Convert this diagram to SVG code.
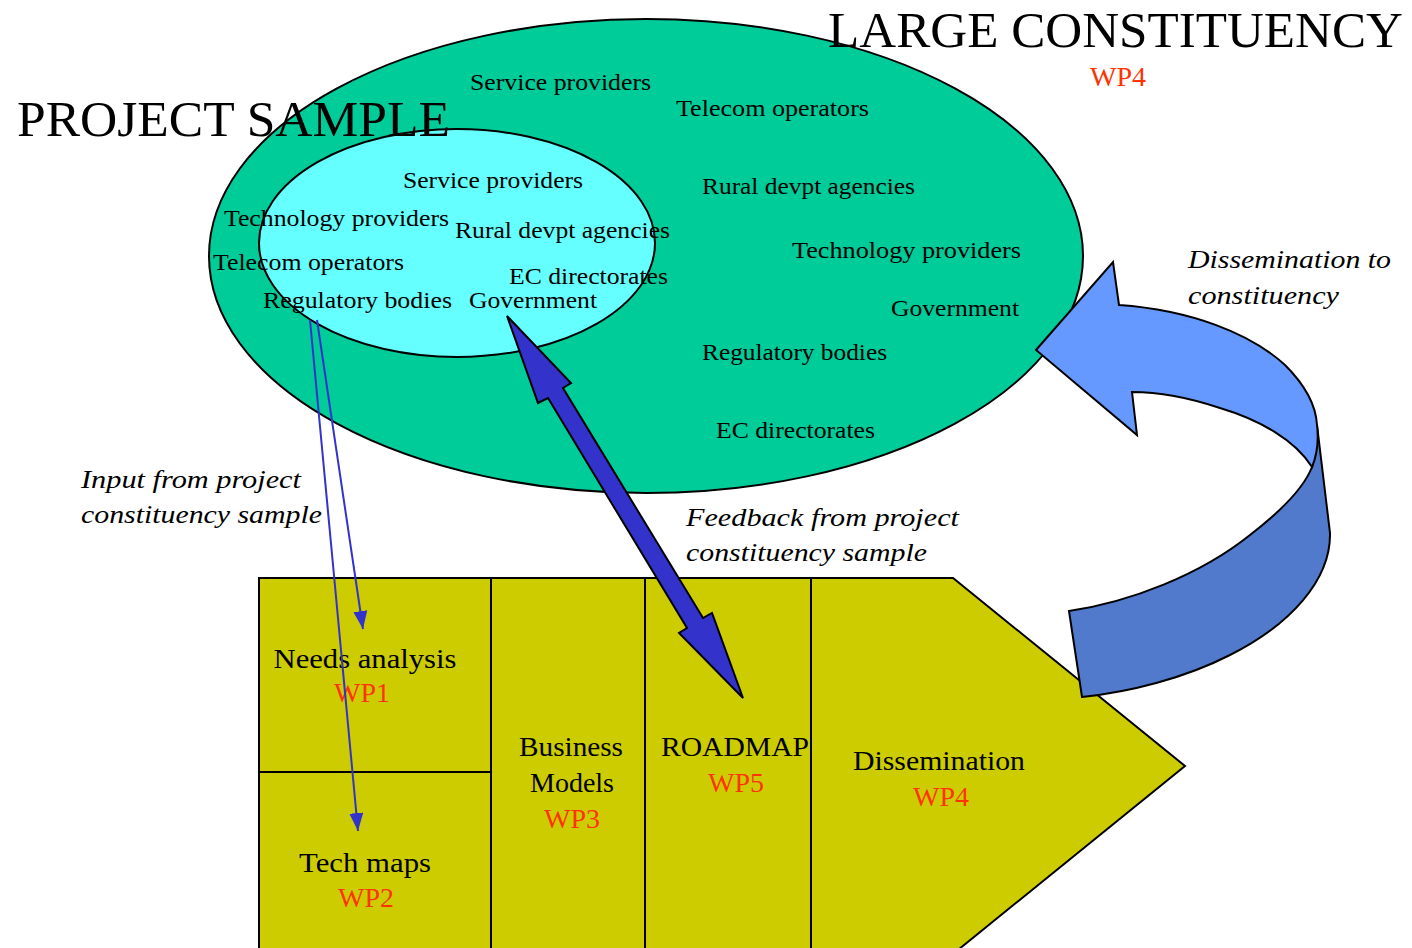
<svg xmlns="http://www.w3.org/2000/svg" width="1412" height="948" viewBox="0 0 1412 948">
  <defs>
    <style>
      text { font-family: "Liberation Serif", "Times New Roman", serif; fill: #000; }
      .title { font-size: 51px; }
      .lbl { font-size: 24px; }
      .note { font-size: 26px; font-style: italic; }
      .box { font-size: 28px; text-anchor: middle; }
      .wp { fill: #FF3300; }
      .edge { stroke: #000; stroke-width: 2; }
      .thin { stroke: #3333CC; stroke-width: 2; fill: none; }
    </style>
    <marker id="tri" viewBox="0 0 18 14" refX="18" refY="7" markerWidth="18" markerHeight="14" markerUnits="userSpaceOnUse" orient="auto">
      <path d="M0,0 L18,7 L0,14 Z" fill="#3333CC"/>
    </marker>
  </defs>

  <rect width="1412" height="948" fill="#fff"/>

  <!-- large constituency -->
  <g id="large-constituency">
    <ellipse cx="646" cy="256" rx="437" ry="237" fill="#00CC99" class="edge"/>
    <text class="lbl" x="470" y="90" textLength="181" lengthAdjust="spacingAndGlyphs">Service providers</text>
    <text class="lbl" x="676" y="116" textLength="193" lengthAdjust="spacingAndGlyphs">Telecom operators</text>
    <text class="lbl" x="702" y="194" textLength="213" lengthAdjust="spacingAndGlyphs">Rural devpt agencies</text>
    <text class="lbl" x="792" y="258" textLength="229" lengthAdjust="spacingAndGlyphs">Technology providers</text>
    <text class="lbl" x="891" y="316" textLength="128" lengthAdjust="spacingAndGlyphs">Government</text>
    <text class="lbl" x="702" y="360" textLength="185" lengthAdjust="spacingAndGlyphs">Regulatory bodies</text>
    <text class="lbl" x="716" y="438" textLength="159" lengthAdjust="spacingAndGlyphs">EC directorates</text>
  </g>

  <!-- project sample -->
  <g id="project-sample">
    <ellipse cx="457" cy="243" rx="198" ry="114" fill="#66FFFF" class="edge"/>
    <text class="lbl" x="403" y="188" textLength="180" lengthAdjust="spacingAndGlyphs">Service providers</text>
    <text class="lbl" x="224" y="226" textLength="225" lengthAdjust="spacingAndGlyphs">Technology providers</text>
    <text class="lbl" x="455" y="238" textLength="215" lengthAdjust="spacingAndGlyphs">Rural devpt agencies</text>
    <text class="lbl" x="213" y="270" textLength="191" lengthAdjust="spacingAndGlyphs">Telecom operators</text>
    <text class="lbl" x="509" y="284" textLength="159" lengthAdjust="spacingAndGlyphs">EC directorates</text>
    <text class="lbl" x="263" y="308" textLength="189" lengthAdjust="spacingAndGlyphs">Regulatory bodies</text>
    <text class="lbl" x="469" y="308" textLength="128" lengthAdjust="spacingAndGlyphs">Government</text>
  </g>

  <g id="titles">
    <text class="title" x="828" y="47" textLength="575" lengthAdjust="spacingAndGlyphs">LARGE CONSTITUENCY</text>
    <text class="box wp" x="1118" y="86">WP4</text>
    <text class="title" x="17" y="136" textLength="433" lengthAdjust="spacingAndGlyphs">PROJECT SAMPLE</text>
  </g>

  <!-- work package chevron -->
  <g id="work-packages">
    <polygon points="259,578 953,578 1185,766 953,954 259,954" fill="#CCCC00" class="edge"/>
    <line x1="491" y1="578" x2="491" y2="948" class="edge"/>
    <line x1="645" y1="578" x2="645" y2="948" class="edge"/>
    <line x1="811" y1="578" x2="811" y2="948" class="edge"/>
    <line x1="259" y1="772" x2="491" y2="772" class="edge"/>
  </g>
  <g id="wp1">
    <text class="box" x="365" y="668" textLength="183" lengthAdjust="spacingAndGlyphs">Needs analysis</text>
    <text class="box wp" x="362" y="702">WP1</text>
  </g>
  <g id="wp2">
    <text class="box" x="365" y="872" textLength="132" lengthAdjust="spacingAndGlyphs">Tech maps</text>
    <text class="box wp" x="366" y="907">WP2</text>
  </g>
  <g id="wp3">
    <text class="box" x="571" y="756" textLength="104" lengthAdjust="spacingAndGlyphs">Business</text>
    <text class="box" x="572" y="792">Models</text>
    <text class="box wp" x="572" y="828">WP3</text>
  </g>
  <g id="wp5">
    <text class="box" x="735" y="756" textLength="148" lengthAdjust="spacingAndGlyphs">ROADMAP</text>
    <text class="box wp" x="736" y="792">WP5</text>
  </g>
  <g id="wp4">
    <text class="box" x="939" y="770" textLength="172" lengthAdjust="spacingAndGlyphs">Dissemination</text>
    <text class="box wp" x="941" y="806">WP4</text>
  </g>

  <!-- connectors -->
  <g id="connectors">
    <line x1="317" y1="320" x2="363" y2="629" class="thin" marker-end="url(#tri)"/>
    <line x1="310" y1="320" x2="358" y2="831" class="thin" marker-end="url(#tri)"/>
    <polygon points="507,316 571,383 563,388 703,618 712,613 743,698 679,633 687,628 548,398 538,403" fill="#3333CC" class="edge"/>
    <path d="M1317,425 L1330,533 C1331,580 1290,625 1230,655 C1185,678 1130,692 1082,697 L1069,611 C1130,602 1200,575 1250,535 C1285,508 1305,485 1312,467 C1316,455 1318,440 1317,425 Z" fill="#527ACC" class="edge"/>
    <path d="M1036,350 L1113,262 L1119,305 C1190,310 1250,333 1285,365 C1305,385 1316,405 1317,425 C1319,442 1317,455 1312,467 C1295,440 1260,420 1220,408 C1190,398 1160,392 1132,392 L1137,435 Z" fill="#6699FF" class="edge"/>
  </g>

  <g id="notes">
    <text class="note" x="81" y="488" textLength="220" lengthAdjust="spacingAndGlyphs">Input from project</text>
    <text class="note" x="81" y="523" textLength="241" lengthAdjust="spacingAndGlyphs">constituency sample</text>
    <text class="note" x="686" y="526" textLength="273" lengthAdjust="spacingAndGlyphs">Feedback from project</text>
    <text class="note" x="686" y="561" textLength="241" lengthAdjust="spacingAndGlyphs">constituency sample</text>
    <text class="note" x="1188" y="268" textLength="203" lengthAdjust="spacingAndGlyphs">Dissemination to</text>
    <text class="note" x="1188" y="304" textLength="151" lengthAdjust="spacingAndGlyphs">constituency</text>
  </g>
</svg>
